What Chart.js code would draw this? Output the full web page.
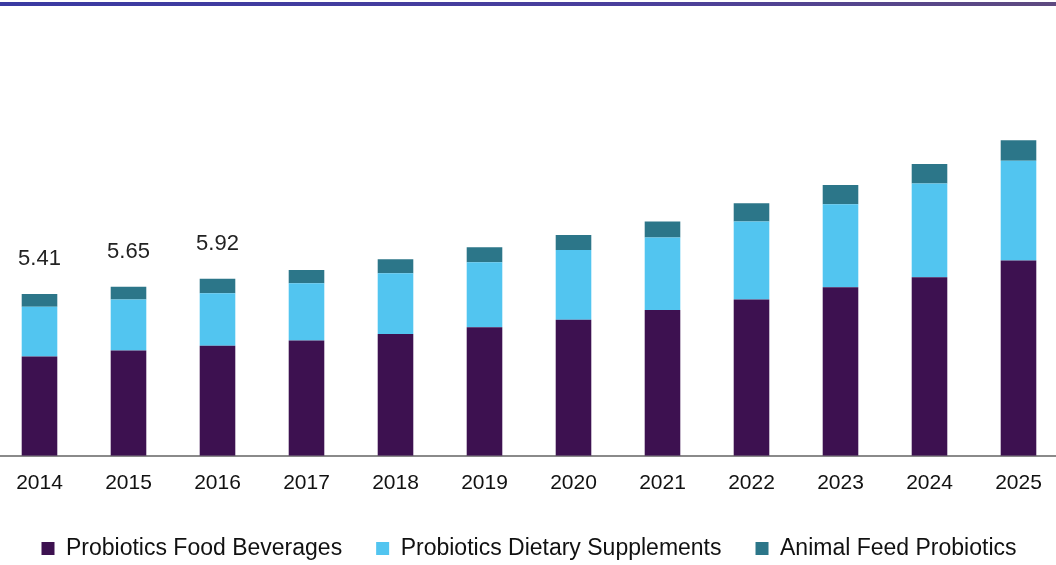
<!DOCTYPE html>
<html>
<head>
<meta charset="utf-8">
<style>
  html, body { margin: 0; padding: 0; background: #fff; overflow: hidden; }
  body { width: 1056px; height: 565px; position: relative; }
  #topLine {
    position: absolute; left: 0; top: 2px; width: 1056px; height: 4px;
    background: linear-gradient(to right, #3a3aa2, #4a3f9c 60%, #5e4a80);
  }
  #wrap { position: absolute; left: -5px; top: 0; width: 1068px; height: 570px; }
</style>
</head>
<body>
<div id="topLine"></div>
<div id="wrap"><canvas id="chart"></canvas></div>
<script src="https://cdn.jsdelivr.net/npm/chart.js"></script>
<script>
  const years = ['2014', '2015', '2016', '2017', '2018', '2019', '2020', '2021', '2022', '2023', '2024', '2025'];
  const foodBeverages = [3.32, 3.52, 3.68, 3.85, 4.07, 4.30, 4.55, 4.87, 5.22, 5.63, 5.97, 6.53];
  const dietarySupplements = [1.66, 1.70, 1.75, 1.92, 2.03, 2.17, 2.33, 2.43, 2.61, 2.78, 3.13, 3.33];
  const animalFeed = [0.43, 0.43, 0.49, 0.44, 0.47, 0.50, 0.50, 0.53, 0.61, 0.64, 0.65, 0.69];
  const totalLabels = ['5.41', '5.65', '5.92', '', '', '', '', '', '', '', '', ''];

  // values written above the first bars
  const totalsPlugin = {
    id: 'totals',
    afterDatasetsDraw(chart) {
      const ctx = chart.ctx;
      const meta = chart.getDatasetMeta(2);
      ctx.save();
      ctx.font = '22px "Liberation Sans", Arial, sans-serif';
      ctx.fillStyle = '#222';
      ctx.textAlign = 'center';
      ctx.textBaseline = 'middle';
      totalLabels.forEach((t, i) => {
        if (!t) return;
        const bar = meta.data[i];
        ctx.fillText(t, bar.x, bar.y - 35);
      });
      ctx.restore();
    }
  };

  const ctx = document.getElementById('chart').getContext('2d');
  new Chart(ctx, {
    type: 'bar',
    data: {
      labels: years,
      datasets: [
        { label: 'Probiotics Food Beverages', data: foodBeverages, backgroundColor: '#3d1150' },
        { label: 'Probiotics Dietary Supplements', data: dietarySupplements, backgroundColor: '#52c5f0' },
        { label: 'Animal Feed Probiotics', data: animalFeed, backgroundColor: '#2c7689' }
      ]
    },
    options: {
      responsive: true,
      maintainAspectRatio: false,
      animation: false,
      datasets: { bar: { barPercentage: 0.4, categoryPercentage: 1 } },
      layout: { padding: { top: 7, bottom: 0 } },
      plugins: {
        tooltip: { enabled: false },
        legend: {
          position: 'bottom',
          labels: {
            color: '#111',
            font: { family: '"Liberation Sans", Arial, sans-serif', size: 23 },
            boxWidth: 13,
            boxHeight: 13,
            padding: 34
          }
        }
      },
      scales: {
        x: {
          stacked: true,
          grid: { display: false },
          border: { display: true, color: '#8a8a8a', width: 2 },
          ticks: {
            color: '#111',
            padding: 7,
            font: { family: '"Liberation Sans", Arial, sans-serif', size: 21 }
          }
        },
        y: {
          stacked: true,
          display: false,
          min: 0,
          max: 15
        }
      }
    },
    plugins: [totalsPlugin]
  });
</script>
</body>
</html>
